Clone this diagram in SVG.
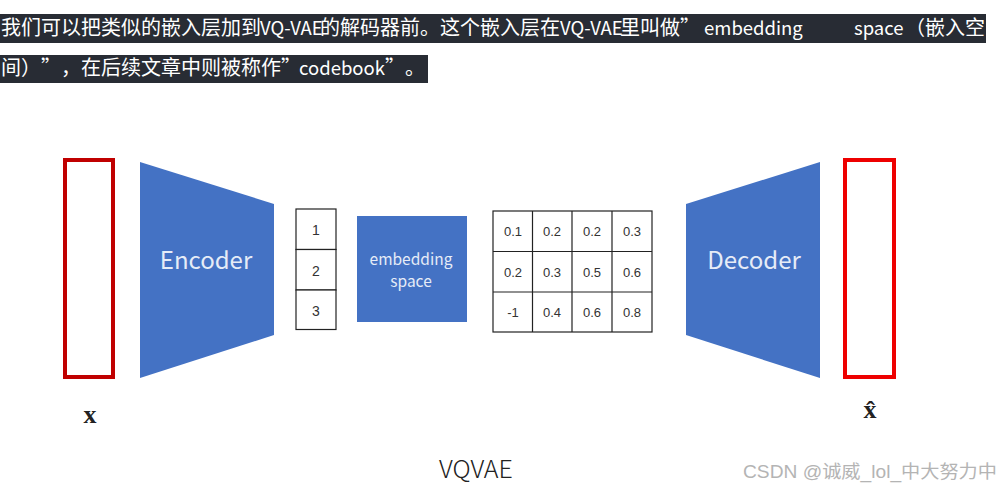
<svg xmlns="http://www.w3.org/2000/svg" width="1000" height="491" viewBox="0 0 1000 491">
<style>
.hdr{fill:#282c34}
.htxt{font-family:"Noto Sans CJK SC","Noto Sans",sans-serif;font-size:20px;fill:#ffffff}
.lat{font-size:18.5px}
.trap{fill:#4472c4}
.lbl{font-family:"Noto Sans CJK SC","Noto Sans",sans-serif;fill:#e6ecf7;text-anchor:middle}
.cell{fill:#ffffff;stroke:#222;stroke-width:1.2}
.num{font-family:"Liberation Sans","Noto Sans",sans-serif;font-size:14px;fill:#333;text-anchor:middle}
.mnum{font-family:"Liberation Sans","Noto Sans",sans-serif;font-size:13px;fill:#333;text-anchor:middle}
.math{font-family:"Liberation Serif","DejaVu Serif",serif;font-weight:bold;font-size:26px;fill:#222;text-anchor:middle}
</style>
<rect width="1000" height="491" fill="#ffffff"/>
<g id="caption">
  <rect class="hdr" x="0" y="14" width="986" height="29"/>
  <rect class="hdr" x="0" y="55" width="428" height="28"/>
  <text class="htxt" y="35"><tspan x="1">我们可以把类似的嵌入层加到</tspan><tspan class="lat" x="260">VQ-VAE</tspan><tspan x="320">的解码器前</tspan><tspan x="420">。</tspan><tspan x="440">这个嵌入层在</tspan><tspan class="lat" x="560">VQ-VAE</tspan><tspan x="620">里叫做</tspan><tspan x="680">”</tspan><tspan class="lat" x="704">embedding</tspan><tspan class="lat" x="854">space</tspan><tspan x="905">（</tspan><tspan x="925">嵌入空</tspan></text>
  <text class="htxt" y="75"><tspan x="1">间</tspan><tspan x="21">）</tspan><tspan x="41">”</tspan><tspan x="61">，</tspan><tspan x="81">在后续文章中则被称作</tspan><tspan x="281">”</tspan><tspan class="lat" x="299">codebook</tspan><tspan x="385">”</tspan><tspan x="405">。</tspan></text>
</g>
<g id="input-x">
  <rect x="65" y="160" width="48" height="217" fill="#ffffff" stroke="#c00000" stroke-width="4"/>
  <text class="math" x="90" y="423">x</text>
</g>
<g id="encoder">
  <polygon class="trap" points="140,162 274,204 274,335 140,378"/>
  <text class="lbl" x="206" y="269" font-size="24">Encoder</text>
</g>
<g id="indices">
  <rect class="cell" x="296" y="209" width="40" height="40.5"/>
  <rect class="cell" x="296" y="249.5" width="40" height="40.5"/>
  <rect class="cell" x="296" y="290" width="40" height="39.5"/>
  <text class="num" x="316" y="235">1</text>
  <text class="num" x="316" y="276">2</text>
  <text class="num" x="316" y="316">3</text>
</g>
<g id="embedding-space">
  <rect x="357" y="216" width="110" height="106" fill="#4472c4"/>
  <text class="lbl" x="411" y="265" font-size="15.5">embedding</text>
  <text class="lbl" x="411" y="287" font-size="15.5">space</text>
</g>
<g id="codebook">
  <rect class="cell" x="493" y="211" width="159" height="121"/>
  <path d="M532.5 211V332M572 211V332M612 211V332M493 251.5H652M493 292H652" stroke="#222" stroke-width="1.2" fill="none"/>
  <text class="mnum" x="513" y="236">0.1</text>
  <text class="mnum" x="552" y="236">0.2</text>
  <text class="mnum" x="592" y="236">0.2</text>
  <text class="mnum" x="632" y="236">0.3</text>
  <text class="mnum" x="513" y="276.5">0.2</text>
  <text class="mnum" x="552" y="276.5">0.3</text>
  <text class="mnum" x="592" y="276.5">0.5</text>
  <text class="mnum" x="632" y="276.5">0.6</text>
  <text class="mnum" x="513" y="317">-1</text>
  <text class="mnum" x="552" y="317">0.4</text>
  <text class="mnum" x="592" y="317">0.6</text>
  <text class="mnum" x="632" y="317">0.8</text>
</g>
<g id="decoder">
  <polygon class="trap" points="686,204 820,162 820,378 686,335"/>
  <text class="lbl" x="754" y="269" font-size="24">Decoder</text>
</g>
<g id="output-xhat">
  <rect x="845" y="160" width="49" height="217" fill="#ffffff" stroke="#ee0000" stroke-width="4"/>
  <text class="math" x="870" y="418">x̂</text>
</g>
<g id="title">
  <text x="476" y="478" font-family="'Noto Sans CJK SC','Noto Sans',sans-serif" font-size="25" fill="#222" text-anchor="middle" font-weight="300">VQVAE</text>
</g>
<g id="watermark">
  <text x="743" y="478" font-family="'Liberation Sans','Noto Sans CJK SC',sans-serif" font-size="18" fill="#b4b4b4" textLength="254" lengthAdjust="spacingAndGlyphs">CSDN @诚威_lol_中大努力中</text>
</g>
</svg>
